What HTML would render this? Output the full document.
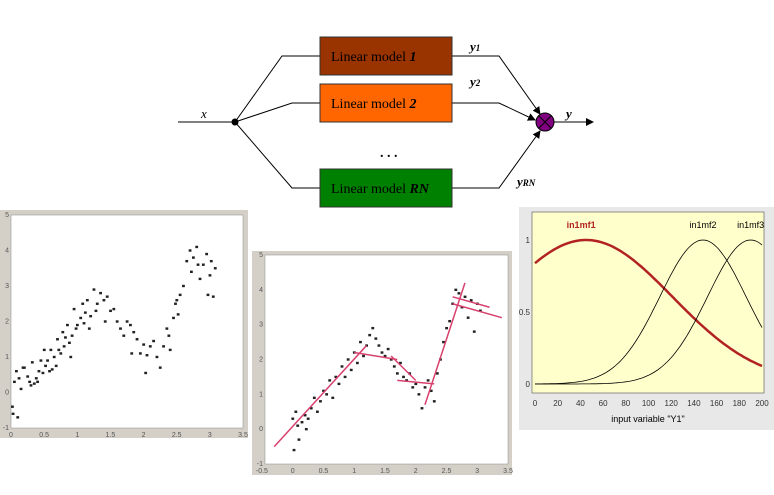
<!DOCTYPE html>
<html><head><meta charset="utf-8"><style>
body{margin:0;background:#fff;width:774px;height:495px;overflow:hidden;font-family:"Liberation Serif",serif}
svg{position:absolute;left:0;top:0}
</style></head><body>
<svg width="774" height="495" viewBox="0 0 774 495">
<defs><marker id="ar" markerWidth="8" markerHeight="8" refX="7" refY="4" orient="auto"><path d="M0,0 L8,4 L0,8 Z" fill="#000"/></marker></defs>
<g stroke="#000" stroke-width="1" fill="none">
<line x1="178" y1="122" x2="235" y2="122"/>
<polyline points="235,122 282,56 320,56"/>
<polyline points="235,122 292,103 320,103"/>
<polyline points="235,122 292,188 320,188"/>
<polyline points="452,56 499,56 540,114" marker-end="url(#ar)"/>
<polyline points="452,103 499,103 535,120" marker-end="url(#ar)"/>
<polyline points="452,188 499,188 540,131" marker-end="url(#ar)"/>
<line x1="554" y1="122" x2="593" y2="122" marker-end="url(#ar)"/>
<circle cx="235" cy="122" r="3" fill="#000"/>
</g>
<rect x="320" y="37" width="132" height="38" fill="#993300" stroke="#333"/>
<rect x="320" y="84" width="132" height="38" fill="#ff6600" stroke="#333"/>
<rect x="320" y="169" width="132" height="38" fill="#008000" stroke="#333"/>
<text x="331" y="61" font-size="14">Linear model <tspan font-weight="bold" font-style="italic">1</tspan></text>
<text x="331" y="108" font-size="14">Linear model <tspan font-weight="bold" font-style="italic">2</tspan></text>
<text x="331" y="193" font-size="14">Linear model <tspan font-weight="bold" font-style="italic">RN</tspan></text>
<text x="380" y="157" font-size="14" font-weight="bold">. . .</text>
<text x="201" y="118" font-size="13" font-style="italic">x</text>
<text x="470" y="51" font-size="13" font-style="italic" font-weight="bold">y<tspan font-size="9">1</tspan></text>
<text x="470" y="86" font-size="13" font-style="italic" font-weight="bold">y<tspan font-size="9">2</tspan></text>
<text x="517" y="186" font-size="13" font-style="italic" font-weight="bold">y<tspan font-size="9">RN</tspan></text>
<text x="566" y="118" font-size="13" font-style="italic" font-weight="bold">y</text>
<g><circle cx="545" cy="122" r="9" fill="#800080" stroke="#000"/><line x1="539" y1="116" x2="551" y2="128" stroke="#000"/><line x1="551" y1="116" x2="539" y2="128" stroke="#000"/></g>

<g id="p1">
<rect x="0" y="210" width="248" height="228" fill="#d4d0c8"/>
<rect x="11" y="215" width="232" height="213" fill="#fff" stroke="#888" stroke-width="0.5"/>
</g>
<g id="p2">
<rect x="252" y="251" width="260" height="224" fill="#d4d0c8"/>
<rect x="265" y="255" width="243" height="209" fill="#fff" stroke="#888" stroke-width="0.5"/>
</g>
<g id="p3">
<rect x="519" y="207" width="255" height="223" fill="#e8e8e8"/>
<rect x="532" y="212" width="232" height="181" fill="#ffffcc" stroke="#666" stroke-width="0.7"/>
<text x="648" y="422" font-size="9" font-family="Liberation Sans, sans-serif" text-anchor="middle">input variable "Y1"</text>
</g>
</svg>
<script>
const NS='http://www.w3.org/2000/svg';
const scatter1X=[0.02,0.03,0.05,0.08,0.1,0.12,0.15,0.18,0.2,0.25,0.28,0.3,0.32,0.35,0.38,0.4,0.42,0.45,0.48,0.5,0.52,0.55,0.58,0.6,0.62,0.65,0.68,0.7,0.72,0.75,0.78,0.8,0.82,0.85,0.88,0.9,0.92,0.95,0.98,1.0,1.05,1.08,1.1,1.12,1.15,1.18,1.2,1.25,1.28,1.3,1.35,1.4,1.42,1.45,1.5,1.55,1.6,1.65,1.7,1.75,1.8,1.82,1.85,1.9,1.95,2.0,2.03,2.05,2.1,2.15,2.2,2.25,2.3,2.35,2.38,2.4,2.45,2.48,2.5,2.52,2.55,2.6,2.65,2.7,2.72,2.75,2.8,2.82,2.85,2.9,2.95,2.97,3.0,3.02,3.05,3.08];
const scatter1Y=[-0.4,-0.6,0.3,0.6,-0.7,0.4,0.1,0.7,0.7,0.45,0.3,0.2,0.85,0.25,0.4,0.3,0.6,0.9,0.55,1.2,0.75,0.9,0.6,1.2,0.65,1.0,0.75,1.5,1.2,1.1,1.7,1.3,1.55,1.9,1.4,1.0,1.6,2.35,1.8,1.9,2.1,2.5,1.95,2.25,2.6,1.8,2.15,2.9,2.3,2.5,2.8,2.6,2.0,2.7,2.3,2.35,2.0,1.8,1.6,2.0,1.9,1.1,1.7,1.5,1.1,1.35,0.55,1.05,1.3,1.45,1.0,0.7,1.3,1.8,1.6,1.2,2.1,2.5,2.6,2.2,2.75,3.0,3.7,4.0,3.4,3.8,4.1,3.6,3.2,3.6,3.9,2.75,3.3,3.7,2.7,3.5];
const scatter2X=[0.0,0.02,0.05,0.08,0.1,0.15,0.2,0.22,0.25,0.3,0.35,0.4,0.45,0.5,0.55,0.6,0.65,0.7,0.75,0.8,0.85,0.9,0.95,1.0,1.05,1.1,1.15,1.2,1.25,1.3,1.35,1.4,1.45,1.5,1.55,1.6,1.65,1.7,1.75,1.8,1.85,1.9,1.95,2.0,2.05,2.1,2.15,2.2,2.25,2.3,2.35,2.4,2.45,2.5,2.55,2.6,2.65,2.7,2.75,2.8,2.85,2.9,2.95,3.0,3.05];
const scatter2Y=[0.3,-0.6,0.5,0.1,-0.3,0.2,0.4,0.0,0.3,0.6,0.9,0.5,0.8,1.1,1.0,1.4,0.9,1.5,1.3,1.8,1.5,2.0,1.7,2.2,1.9,2.5,2.1,2.4,2.7,2.9,2.6,2.4,2.2,2.1,2.3,2.0,1.8,1.6,1.9,1.5,1.4,1.6,1.2,1.3,1.0,0.6,1.2,1.4,1.1,0.8,1.6,2.0,2.5,2.9,3.1,3.6,4.0,3.9,3.5,3.8,3.2,3.7,2.8,3.6,3.4];
const seg2X1=[-0.3,1.0,1.6,1.7,2.15,2.6,2.6];
const seg2Y1=[-0.5,2.2,2.1,1.4,0.7,3.6,3.8];
const seg2X2=[1.2,1.7,2.0,2.3,2.8,3.4,3.2];
const seg2Y2=[2.4,2.0,1.4,1.3,4.2,3.2,3.5];
const mfCenters=[45,148,190];
const mfSigmas=[76,38,38];
const mfLabels=['in1mf1','in1mf2','in1mf3'];
const xTicks1=['0','0.5','1','1.5','2','2.5','3','3.5'];
const xTicks2=['-0.5','0','0.5','1','1.5','2','2.5','3','3.5'];
const yTicks=['-1','0','1','2','3','4','5'];
const mfXTicks=[0,20,40,60,80,100,120,140,160,180,200];
const mfYTicks=[0,0.5,1];

function mk(tag,attrs,parent){const e=document.createElementNS(NS,tag);for(const k in attrs)e.setAttribute(k,attrs[k]);parent.appendChild(e);return e;}
function axes(g,x0,x1,y0,y1,dx0,dx1,xt,xvals){
  const sx=v=>x0+(v-dx0)/(dx1-dx0)*(x1-x0), sy=v=>y1-(v+1)/6*(y1-y0);
  xt.forEach((t,i)=>{const e=mk('text',{x:sx(xvals[i]),y:y1+9,'font-size':7,fill:'#555','text-anchor':'middle','font-family':'Liberation Sans, sans-serif'},g);e.textContent=t;
    
    });
  yTicks.forEach(t=>{const e=mk('text',{x:x0-2,y:sy(+t)+2,'font-size':7,fill:'#555','text-anchor':'end','font-family':'Liberation Sans, sans-serif'},g);e.textContent=t;
    
    });
  return [sx,sy];
}
// panel 1
{const g=document.getElementById('p1');
 const [sx,sy]=axes(g,11,243,215,428,0,3.5,xTicks1,xTicks1.map(Number));
 scatter1X.forEach((x,i)=>{const r=mk('rect',{x:sx(x)-1.3,y:sy(scatter1Y[i])-1.2,width:2.8,height:2.4,fill:'#222'},g);
  
  });}
// panel 2
{const g=document.getElementById('p2');
 const [sx,sy]=axes(g,265,508,255,464,-0.45,3.5,xTicks2,xTicks2.map(Number));
 scatter2X.forEach((x,i)=>{const r=mk('rect',{x:sx(x)-1.3,y:sy(scatter2Y[i])-1.2,width:2.8,height:2.4,fill:'#222'},g);
  
  });
 seg2X1.forEach((x,i)=>{const l=mk('line',{x1:sx(x),y1:sy(seg2Y1[i]),x2:sx(seg2X2[i]),y2:sy(seg2Y2[i]),stroke:'#d8406e','stroke-width':1.5},g);
  
  });}
// panel 3
{const g=document.getElementById('p3');
 const sx=v=>535+v/200*(762-535), sy=v=>384-v*(384-240);
 mfXTicks.forEach(t=>{const e=mk('text',{x:sx(t),y:406,'font-size':8,fill:'#333','text-anchor':'middle','font-family':'Liberation Sans, sans-serif'},g);e.textContent=t;
  
  });
 mfYTicks.forEach(t=>{const e=mk('text',{x:530,y:sy(t)+3,'font-size':8,fill:'#333','text-anchor':'end','font-family':'Liberation Sans, sans-serif'},g);e.textContent=t;
  
  });
 mfCenters.forEach((c,i)=>{let d='';for(let v=0;v<=200;v+=2){const y=Math.exp(-Math.pow(v-c,2)/(2*mfSigmas[i]*mfSigmas[i]));d+=(v?'L':'M')+sx(v).toFixed(1)+','+sy(y).toFixed(1);}
  const p=mk('path',{d:d,fill:'none',stroke:i?'#000':'#b22222','stroke-width':i?0.8:2.5},g);
  
  
  const t=mk('text',{x:sx(c)-(i?0:5),y:228,'font-size':9,fill:i?'#000':'#b22222','font-weight':i?'normal':'bold','text-anchor':'middle','font-family':'Liberation Sans, sans-serif'},g);t.textContent=mfLabels[i];
  
  });}
</script>
</body></html>
